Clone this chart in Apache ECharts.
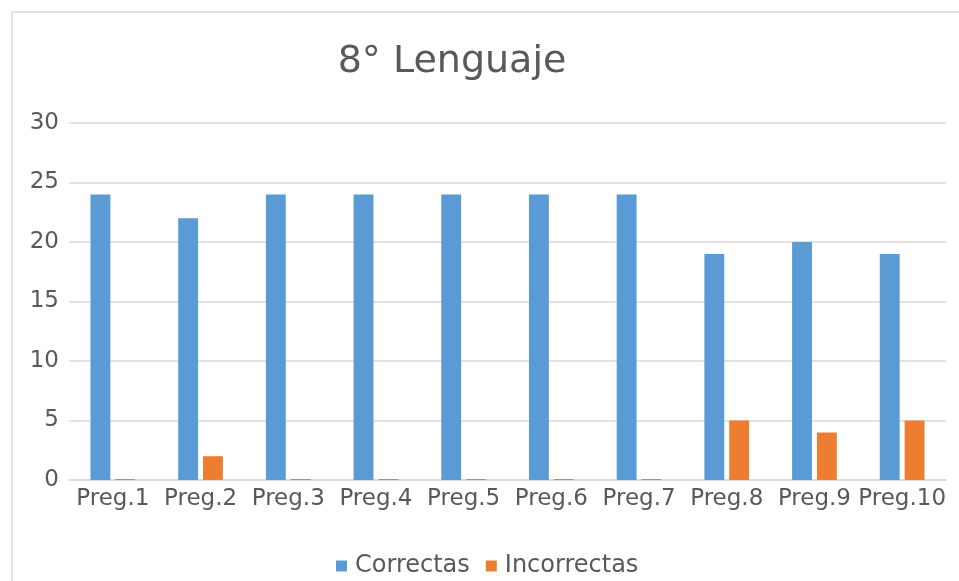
<!DOCTYPE html>
<html>
<head>
<meta charset="utf-8">
<script src="https://cdn.jsdelivr.net/npm/echarts@6/dist/echarts.min.js"></script>
<style>html,body{margin:0;padding:0;background:#fff;}#c{width:959px;height:581px;}</style>
</head>
<body>
<div id="c"></div>
<script>
const categories = ['Preg.1','Preg.2','Preg.3','Preg.4','Preg.5','Preg.6','Preg.7','Preg.8','Preg.9','Preg.10'];
const correctas = [24, 22, 24, 24, 24, 24, 24, 19, 20, 19];
const incorrectas = [0, 2, 0, 0, 0, 0, 0, 5, 4, 5];
const yTicks = [0, 5, 10, 15, 20, 25, 30];

const chart = echarts.init(document.getElementById('c'), null, {renderer: 'canvas'});
const font = 'DejaVu Sans';
chart.setOption({
  animation: false,
  backgroundColor: '#fff',
  textStyle: {fontFamily: font},
  graphic: [{
    type: 'rect', left: 9.5, top: 9.5, silent: true,
    shape: {width: 1000, height: 1000},
    style: {fill: 'none', stroke: '#d9d9d9', lineWidth: 1.5}
  }],
  title: {
    text: '8° Lenguaje', left: 447, top: 38, textAlign: 'center',
    textStyle: {fontFamily: font, fontSize: 38, fontWeight: 'normal', color: '#595959'}
  },
  legend: {
    data: ['Correctas', 'Incorrectas'],
    left: 331, top: 549,
    itemWidth: 11, itemHeight: 11, itemGap: 16,
    icon: 'rect',
    textStyle: {fontFamily: font, fontSize: 24, color: '#595959', padding: [0,0,0,3]}
  },
  grid: {left: 69, right: 13, top: 123, bottom: 101, containLabel: false},
  xAxis: {
    type: 'category', data: categories,
    axisLine: {lineStyle: {color: '#d9d9d9', width: 1.5}},
    axisTick: {show: false},
    axisLabel: {fontFamily: font, fontSize: 23, color: '#595959', margin: 8, interval: 0}
  },
  yAxis: {
    type: 'value', min: yTicks[0], max: yTicks[yTicks.length-1], interval: 5,
    axisLine: {show: false}, axisTick: {show: false},
    axisLabel: {fontFamily: font, fontSize: 23, color: '#595959', margin: 10},
    splitLine: {lineStyle: {color: '#d9d9d9', width: 1.5}}
  },
  series: [
    {name: 'Correctas', type: 'bar', data: correctas, itemStyle: {color: '#5b9bd5'},
     barGap: '25%', barCategoryGap: '49%', barMinHeight: 1},
    {name: 'Incorrectas', type: 'bar', data: incorrectas, itemStyle: {color: '#ed7d31'},
     barMinHeight: 1}
  ]
});
</script>
</body>
</html>
